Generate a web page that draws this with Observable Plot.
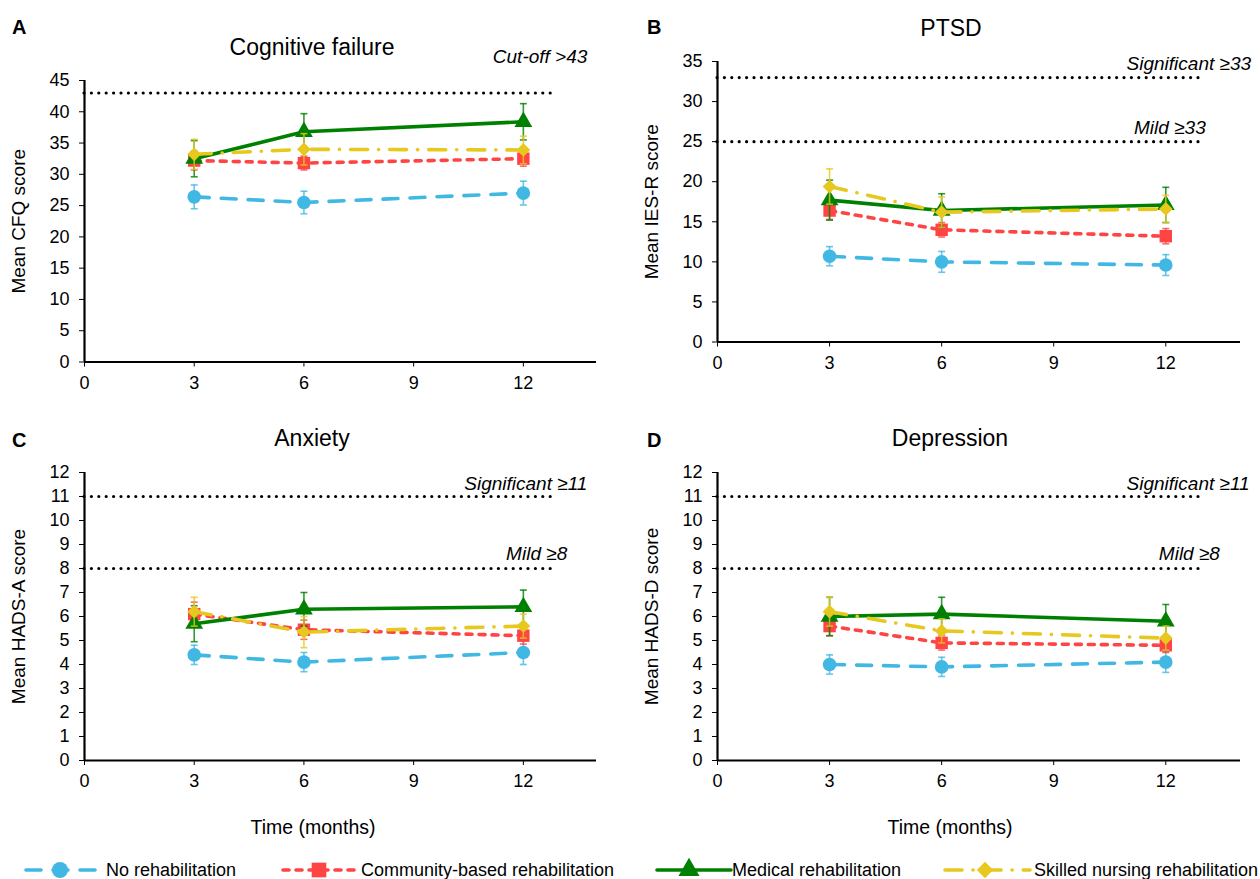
<!DOCTYPE html>
<html><head><meta charset="utf-8">
<script src="https://cdn.jsdelivr.net/npm/d3@7"></script>
<script src="https://cdn.jsdelivr.net/npm/@observablehq/plot@0.6"></script>
<style>
body{margin:0;background:#fff;font-family:"Liberation Sans",Arial,sans-serif;color:#000;}
#root{position:relative;width:1260px;height:879px;overflow:hidden;background:#fff;}
.abs{position:absolute;line-height:1;white-space:nowrap;}
.letter{font-weight:bold;font-size:20px;}
.title{font-size:23px;transform:translate(-50%,-50%);}
.xlab{font-size:19.5px;transform:translate(-50%,-50%);}
.legtext{font-size:18px;transform:translateY(-50%);}
.panel{position:absolute;width:630px;height:420px;}
</style></head><body><div id="root"></div>
<script>
// ---------- data ----------
const months = [3, 6, 12];
const xTicks = [0, 3, 6, 9, 12];
const groups = ["No rehabilitation", "Community-based rehabilitation", "Medical rehabilitation", "Skilled nursing rehabilitation"];

// order of rows: No, Community, Medical, Skilled nursing; columns: 3, 6, 12 months
const cfqMean = [[26.4, 25.5, 27.0], [32.2, 31.8, 32.5], [32.5, 36.8, 38.4], [33.2, 34.0, 33.9]];
const cfqErr  = [[1.9, 1.8, 1.9], [1.5, 1.1, 1.2], [2.9, 2.9, 2.9], [2.4, 2.5, 2.2]];

const iesMean = [[10.7, 10.0, 9.6], [16.4, 14.0, 13.2], [17.7, 16.4, 17.1], [19.4, 16.2, 16.6]];
const iesErr  = [[1.2, 1.3, 1.3], [1.1, 0.9, 0.95], [2.5, 2.1, 2.2], [2.2, 1.9, 1.7]];

const hadsAMean = [[4.4, 4.1, 4.5], [6.1, 5.45, 5.2], [5.7, 6.3, 6.4], [6.2, 5.35, 5.6]];
const hadsAErr  = [[0.4, 0.4, 0.5], [0.5, 0.4, 0.35], [0.75, 0.7, 0.7], [0.6, 0.65, 0.5]];

const hadsDMean = [[4.0, 3.9, 4.1], [5.6, 4.9, 4.8], [6.0, 6.1, 5.8], [6.2, 5.4, 5.1]];
const hadsDErr  = [[0.4, 0.4, 0.43], [0.4, 0.3, 0.3], [0.8, 0.7, 0.7], [0.6, 0.5, 0.5]];

const cfqThresholds = [43];
const cfqThresholdLabels = ["Cut-off >43"];
const iesThresholds = [33, 25];
const iesThresholdLabels = ["Significant \u226533", "Mild \u226533"];
const hadsThresholds = [11, 8];
const hadsThresholdLabels = ["Significant \u226511", "Mild \u22658"];

// ---------- styles ----------
const colors = ["#41b8e4", "#ff4444", "#008000", "#e6c81e"];
const dashes = ["15,12", "6,7", null, "17,11,0.1,11"];
const symbols = ["circle", "square", "triangle", "diamond2"];
const symR = [6.8, 7.0, 6.6, 6.2];
const FONT = '"Liberation Sans", Arial, sans-serif';

const capSymbol = {draw(ctx) { ctx.moveTo(-3.5, 0); ctx.lineTo(3.5, 0); }};

const root = document.getElementById("root");
function addText(cls, txt, left, top, extra) {
  const d = document.createElement("div");
  d.className = "abs " + cls;
  d.textContent = txt;
  d.style.left = left + "px";
  d.style.top = top + "px";
  if (extra) Object.assign(d.style, extra);
  root.appendChild(d);
}

const panels = [
  {letter: "A", title: "Cognitive failure", ylabel: "Mean CFQ score", mean: cfqMean, err: cfqErr,
   ymax: 45, ystep: 5, th: cfqThresholds, thLab: cfqThresholdLabels,
   thPos: [{x: 13.75, anchor: "end", dy: -36}],
   left: 0, top: 0, m: {l: 84, r: 34, t: 80, b: 58.5}, titleX: 312, titleY: 47, xlab: false},
  {letter: "B", title: "PTSD", ylabel: "Mean IES-R score", mean: iesMean, err: iesErr,
   ymax: 35, ystep: 5, th: iesThresholds, thLab: iesThresholdLabels,
   thPos: [{x: 10.95, anchor: "start", dy: -14}, {x: 11.15, anchor: "start", dy: -14}],
   left: 630, top: 0, m: {l: 87, r: 20, t: 61, b: 78.5}, titleX: 951, titleY: 28, xlab: false},
  {letter: "C", title: "Anxiety", ylabel: "Mean HADS-A score", mean: hadsAMean, err: hadsAErr,
   ymax: 12, ystep: 1, th: hadsThresholds, thLab: hadsThresholdLabels,
   thPos: [{x: 13.75, anchor: "end", dy: -13}, {x: 13.2, anchor: "end", dy: -15}],
   left: 0, top: 420, m: {l: 84, r: 34, t: 52, b: 80}, titleX: 312, titleY: 438, xlab: true, xlabX: 313},
  {letter: "D", title: "Depression", ylabel: "Mean HADS-D score", mean: hadsDMean, err: hadsDErr,
   ymax: 12, ystep: 1, th: hadsThresholds, thLab: hadsThresholdLabels,
   thPos: [{x: 10.95, anchor: "start", dy: -13}, {x: 13.45, anchor: "end", dy: -15}],
   left: 630, top: 420, m: {l: 87, r: 20, t: 52, b: 80}, titleX: 950, titleY: 438, xlab: true, xlabX: 950}
];

for (const p of panels) {
  const rows = [];
  groups.forEach((g, gi) => months.forEach((mo, mi) => rows.push({g, gi, m: mo, v: p.mean[gi][mi], e: p.err[gi][mi]})));
  const thData = p.th.map((v, i) => ({value: v, label: p.thLab[i], ...p.thPos[i]}));
  const marks = [];
  // threshold dotted lines
  marks.push(Plot.ruleY(thData, {y: "value", x1: 0, x2: 12.9, stroke: "black", strokeWidth: 3.2,
    strokeDasharray: "0,7.4", strokeLinecap: "round"}));
  thData.forEach(t => marks.push(Plot.text([t], {x: "x", y: "value", text: "label", textAnchor: t.anchor,
    dy: t.dy, fontSize: 19, fontStyle: "italic", fill: "black"})));
  // axes
  marks.push(Plot.axisY({ticks: d3.range(0, p.ymax + p.ystep / 2, p.ystep), tickSize: 5, tickPadding: 10, label: null, fontSize: 18}));
  marks.push(Plot.axisX({ticks: xTicks, tickSize: 5, tickPadding: 9, label: null, fontSize: 18}));
  marks.push(Plot.ruleX([0], {stroke: "black", strokeWidth: 2.2}));
  marks.push(Plot.ruleY([0], {stroke: "black", strokeWidth: 2.2}));
  marks.push(Plot.text([p.ylabel], {text: d => d, frameAnchor: "left", textAnchor: "middle", rotate: -90, dx: -66, fontSize: 19, fill: "black"}));
  // series
  groups.forEach((g, gi) => {
    const d = rows.filter(r => r.gi === gi);
    const col = colors[gi];
    marks.push(Plot.ruleX(d, {x: "m", y1: r => r.v - r.e, y2: r => r.v + r.e, stroke: col, strokeWidth: 1.6, strokeOpacity: 0.8}));
    marks.push(Plot.dot(d, {x: "m", y: r => r.v + r.e, symbol: capSymbol, r: 3, stroke: col, strokeWidth: 1.6, strokeOpacity: 0.8, fill: "none"}));
    marks.push(Plot.dot(d, {x: "m", y: r => r.v - r.e, symbol: capSymbol, r: 3, stroke: col, strokeWidth: 1.6, strokeOpacity: 0.8, fill: "none"}));
    const lineOpts = {x: "m", y: "v", stroke: col, strokeWidth: 3.6};
    if (dashes[gi]) lineOpts.strokeDasharray = dashes[gi];
    marks.push(Plot.line(d, lineOpts));
    marks.push(Plot.dot(d, {x: "m", y: "v", symbol: symbols[gi], r: symR[gi], fill: col, stroke: "none"}));
  });

  const svg = Plot.plot({
    width: 630, height: 420,
    marginLeft: p.m.l, marginRight: p.m.r, marginTop: p.m.t, marginBottom: p.m.b,
    x: {domain: [0, 14]},
    y: {domain: [0, p.ymax]},
    style: {fontFamily: FONT, fontSize: "18px", color: "black", background: "white", overflow: "hidden"},
    marks
  });
  const wrap = document.createElement("div");
  wrap.className = "panel";
  wrap.style.left = p.left + "px";
  wrap.style.top = p.top + "px";
  wrap.appendChild(svg);
  root.appendChild(wrap);

  addText("letter", p.letter, p.left + (p.left ? 17 : 12), p.top + (p.top ? 10 : 17));
  addText("title", p.title, p.titleX, p.titleY);
  if (p.xlab) addText("xlab", "Time (months)", p.xlabX, 828);
}

// ---------- legend ----------
const legendItems = [
  {x0: 26, x1: 99, mx: 60, tx: 106},
  {x0: 283, x1: 359, mx: 319, tx: 361},
  {x0: 657, x1: 731, mx: 689, tx: 732},
  {x0: 945, x1: 1030, mx: 985, tx: 1034}
];
const legY = 870;
const legSvg = d3.select(root).append("svg")
  .attr("width", 1260).attr("height", 40)
  .style("position", "absolute").style("left", "0px").style("top", (legY - 20) + "px");
const symMap = {circle: d3.symbolCircle, square: d3.symbolSquare, triangle: d3.symbolTriangle, diamond2: d3.symbolDiamond2};
groups.forEach((g, gi) => {
  const it = legendItems[gi];
  const ln = legSvg.append("line").attr("x1", it.x0).attr("x2", it.x1).attr("y1", 20).attr("y2", 20)
    .attr("stroke", colors[gi]).attr("stroke-width", 3.6).attr("stroke-linecap", "round");
  if (dashes[gi]) ln.attr("stroke-dasharray", dashes[gi]);
  legSvg.append("path").attr("transform", `translate(${it.mx},20)`)
    .attr("d", d3.symbol(symMap[symbols[gi]], Math.PI * symR[gi] * symR[gi] * 1.4)())
    .attr("fill", colors[gi]);
  addText("legtext", g, it.tx, legY);
});
</script>
</body></html>
